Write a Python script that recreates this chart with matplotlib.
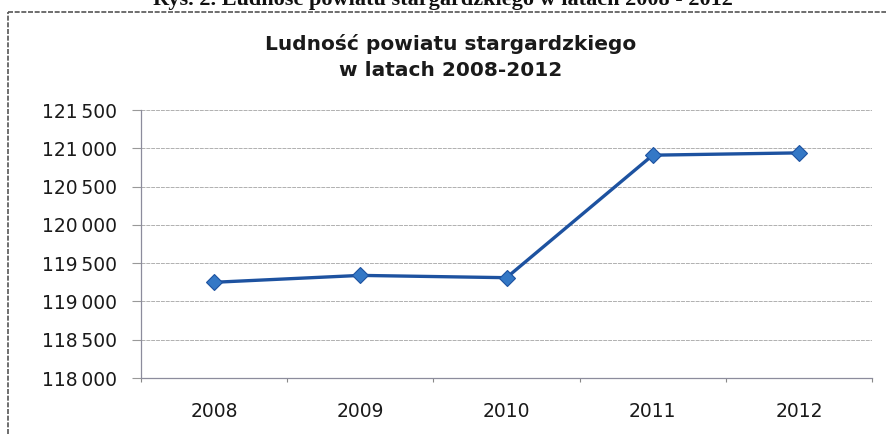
import numpy as np
import matplotlib
matplotlib.use("Agg")
import matplotlib.pyplot as plt
from matplotlib.lines import Line2D

# data
years = ["2008", "2009", "2010", "2011", "2012"]
population = [119250, 119340, 119310, 120910, 120940]
y_ticks = [118000, 118500, 119000, 119500, 120000, 120500, 121000, 121500]
y_tick_labels = ["118\u2009000", "118\u2009500", "119\u2009000", "119\u2009500",
                 "120\u2009000", "120\u2009500", "121\u2009000", "121\u2009500"]

title = "Ludność powiatu stargardzkiego\nw latach 2008-2012"
caption = "Rys. 2. Ludność powiatu stargardzkiego w latach 2008 - 2012"

W, H = 886, 434
fig = plt.figure(figsize=(W / 100, H / 100), dpi=100)
fig.patch.set_facecolor("white")

# plot area in pixels: x 141..872, y 110..378
ax = fig.add_axes([141 / W, 1 - 378 / H, (872 - 141) / W, (378 - 110) / H])

x = np.arange(len(years))
ax.plot(x, population, color="#1d52a0", lw=2.4, marker="D", markersize=8,
        markerfacecolor="#3478c6", markeredgecolor="#1d52a0", markeredgewidth=0.8,
        zorder=5, clip_on=False)

ax.set_xlim(-0.5, len(years) - 0.5)
ax.set_ylim(y_ticks[0], y_ticks[-1])
ax.set_yticks(y_ticks)
ax.set_yticklabels(y_tick_labels)

# category labels centered, tick marks between categories
ax.set_xticks(np.arange(len(years) + 1) - 0.5)
ax.set_xticklabels([])
ax.set_xticks(x, minor=True)
ax.set_xticklabels(years, minor=True)
ax.tick_params(axis="x", which="minor", length=0, pad=17.5, labelsize=13.5, labelcolor="#1a1a1a")
ax.tick_params(axis="x", which="major", length=3, color="#888888", direction="out")
ax.tick_params(axis="y", length=6.5, color="#999999", pad=11, labelsize=13.5, labelcolor="#1a1a1a")

ax.grid(axis="y", color="#b0b0b0", lw=0.7, linestyle=(0, (4, 1)))
ax.set_axisbelow(True)
for side in ["top", "right"]:
    ax.spines[side].set_visible(False)
for side in ["left", "bottom"]:
    ax.spines[side].set_color("#8c8c9c")
    ax.spines[side].set_linewidth(0.9)

# chart title
fig.text(451 / W, 1 - 57 / H, title, ha="center", va="center", fontsize=14.5,
         fontweight="bold", color="#1a1a1a", linespacing=1.45)

# chart border (right and bottom edges run off the scan)
fig.add_artist(Line2D([8 / W, 8 / W], [0, 1 - 12 / H], transform=fig.transFigure,
                      color="#555555", lw=1.2, linestyle=(0, (3, 1))))
fig.add_artist(Line2D([8 / W, 1], [1 - 12 / H, 1 - 12 / H], transform=fig.transFigure,
                      color="#555555", lw=1.2, linestyle=(0, (3, 1))))

# document caption, cut off at the top of the scan as in the reference
fig.text(443 / W, 1 - 5 / H, caption, ha="center", va="baseline", fontsize=16,
         fontweight="bold", family="Liberation Serif", color="#111111")

fig.savefig("out.png", dpi=100)
plt.close(fig)
